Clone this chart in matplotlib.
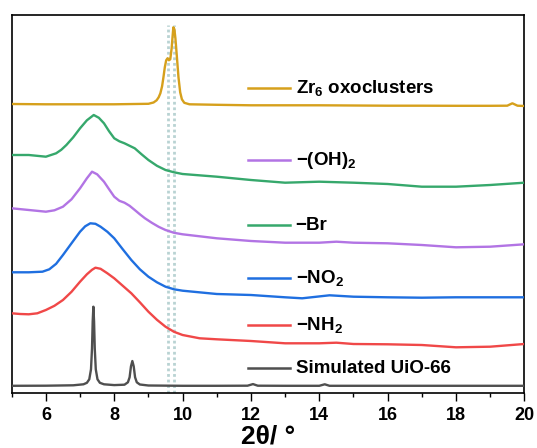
import matplotlib
matplotlib.use("Agg")
import matplotlib.pyplot as plt
from matplotlib.lines import Line2D

plt.rcParams['font.family'] = ['Liberation Sans', 'DejaVu Sans']
plt.rcParams['font.weight'] = 'bold'
plt.rcParams['mathtext.fontset'] = 'custom'
plt.rcParams['mathtext.rm'] = 'Liberation Sans:bold'
plt.rcParams['mathtext.bf'] = 'Liberation Sans:bold'
plt.rcParams['mathtext.it'] = 'Liberation Sans:bold'
plt.rcParams['mathtext.default'] = 'bf'

# ---------------- data (offset intensities, arbitrary units) ----------------
sim_x = [5.0, 6.0, 6.8, 7.1, 7.2, 7.27, 7.32, 7.35, 7.37, 7.39, 7.41, 7.43,
         7.46, 7.51, 7.58, 7.7, 8.0, 8.3, 8.4, 8.45, 8.49, 8.53, 8.57, 8.61,
         8.66, 8.75, 9.0, 10.0, 11.0, 11.9, 12.06, 12.2, 13.0, 14.0, 14.16,
         14.3, 15.0, 16.0, 17.0, 18.0, 19.0, 20.0]
sim_y = [7.5, 7.6, 8.0, 9.0, 10.5, 14.0, 24.0, 45.0, 72.0, 86.6, 72.0, 45.0,
         24.0, 14.0, 10.5, 9.0, 8.2, 8.6, 11.0, 16.0, 27.0, 32.3, 27.0, 16.0,
         11.0, 8.8, 7.8, 7.5, 7.5, 7.6, 9.2, 7.6, 7.5, 7.5, 9.0, 7.5, 7.5,
         7.5, 7.5, 7.5, 7.5, 7.5]

nh2_x = [5.0, 5.25, 5.5, 5.75, 6.0, 6.25, 6.5, 6.75, 7.0, 7.2, 7.35, 7.45,
         7.6, 7.8, 8.0, 8.25, 8.5, 8.75, 9.0, 9.25, 9.5, 9.75, 10.0, 10.5,
         11.0, 12.0, 13.0, 14.0, 14.5, 15.0, 16.0, 17.0, 18.0, 19.0, 20.0]
nh2_y = [80.0, 79.3, 79.0, 80.0, 83.3, 87.5, 93.3, 101.5, 111.6, 119.0, 123.5,
         125.6, 124.5, 120.0, 115.0, 107.5, 100.0, 91.0, 81.6, 73.5, 66.6,
         61.5, 58.3, 55.0, 54.0, 52.3, 50.0, 50.0, 50.6, 49.3, 49.0, 48.3,
         46.0, 46.6, 49.3]

no2_x = [5.0, 5.5, 5.9, 6.1, 6.3, 6.5, 6.75, 7.0, 7.15, 7.3, 7.45, 7.6, 7.8,
         8.0, 8.25, 8.5, 8.75, 9.0, 9.25, 9.5, 9.75, 10.0, 11.0, 12.0, 13.0,
         13.5, 14.3, 15.0, 16.0, 17.0, 18.0, 19.0, 20.0]
no2_y = [121.0, 121.0, 121.6, 124.0, 129.5, 138.3, 150.0, 161.6, 167.0, 170.0,
         169.5, 166.6, 161.5, 155.0, 144.0, 133.3, 124.0, 116.6, 111.0, 106.6,
         104.0, 102.6, 99.3, 98.3, 96.0, 95.0, 98.0, 96.6, 96.0, 95.6, 96.0,
         96.0, 96.0]

oh2_x = [5.0, 5.5, 6.0, 6.25, 6.5, 6.75, 7.0, 7.2, 7.35, 7.5, 7.7, 7.85, 8.0,
         8.15, 8.3, 8.45, 8.6, 8.75, 8.9, 9.1, 9.3, 9.5, 9.75, 10.0, 11.0,
         12.0, 13.0, 14.0, 14.5, 15.0, 16.0, 17.0, 18.0, 19.0, 20.0]
oh2_y = [185.0, 183.3, 181.6, 183.0, 186.6, 194.0, 205.0, 215.0, 221.6, 219.0,
         211.6, 204.0, 196.6, 192.5, 190.6, 187.5, 183.3, 179.0, 175.0, 170.5,
         166.5, 163.3, 160.5, 159.0, 155.0, 152.3, 150.6, 150.6, 151.6, 150.6,
         150.0, 148.3, 146.0, 146.6, 149.0]

br_x = [5.0, 5.5, 6.0, 6.3, 6.45, 6.6, 6.8, 7.0, 7.2, 7.4, 7.55, 7.7, 7.85,
        8.0, 8.15, 8.3, 8.45, 8.6, 8.8, 9.0, 9.25, 9.5, 9.75, 10.0, 11.0,
        12.0, 13.0, 14.0, 15.0, 16.0, 17.0, 18.0, 19.0, 20.0]
br_y = [238.3, 238.3, 236.6, 240.0, 243.5, 248.3, 256.0, 265.0, 273.0, 278.3,
        275.5, 270.0, 262.0, 255.0, 252.0, 250.0, 247.5, 245.0, 239.0, 233.3,
        227.5, 223.3, 221.0, 219.3, 216.6, 213.3, 210.6, 211.6, 210.6, 209.3,
        206.6, 206.6, 208.3, 210.6]

zr_x = [5.0, 6.0, 7.0, 8.0, 9.0, 9.15, 9.24, 9.3, 9.35, 9.4, 9.44, 9.48, 9.52,
        9.56, 9.6, 9.64, 9.68, 9.71, 9.73, 9.76, 9.79, 9.83, 9.88, 9.93, 9.98,
        10.05, 10.2, 11.0, 12.0, 13.0, 14.0, 15.0, 16.0, 17.0, 18.0, 19.0,
        19.5, 19.65, 19.8, 20.0]
zr_y = [289.3, 289.0, 289.0, 289.0, 289.5, 290.8, 293.0, 296.0, 300.0, 307.0,
        316.0, 326.0, 333.0, 335.0, 333.0, 334.0, 345.0, 358.0, 366.0, 364.0,
        355.0, 338.0, 316.0, 301.0, 294.0, 290.5, 289.0, 288.5, 288.0, 288.0,
        288.0, 287.8, 287.6, 287.6, 287.5, 287.5, 287.6, 290.0, 287.6, 287.3]

ref_lines = [9.58, 9.76]

labels = ['Zr$_6$ oxoclusters', '\u2212(OH)$_2$', '\u2212Br', '\u2212NO$_2$',
          '\u2212NH$_2$', 'Simulated UiO-66']
colors = ['#d6a01c', '#b274e4', '#36a86c', '#1f6fe0', '#f04848', '#4f4f4f']
legend_y = [0.806, 0.616, 0.4445, 0.304, 0.180, 0.066]

xticks = [6, 8, 10, 12, 14, 16, 18, 20]

# ---------------- figure ----------------
fig = plt.figure(figsize=(5.37, 4.48), dpi=100)
ax = fig.add_axes([0.0218, 0.1221, 0.9546, 0.8451])

for xv in ref_lines:
    ax.plot([xv, xv], [0, 368], color='#b9d3d3', lw=2.0, ls=(0, (1.0, 1.0)), zorder=1)

series = [(zr_x, zr_y), (oh2_x, oh2_y), (br_x, br_y), (no2_x, no2_y),
          (nh2_x, nh2_y), (sim_x, sim_y)]
for (xs, ys), c in zip(series, colors):
    ax.plot(xs, ys, color=c, lw=1.7, zorder=3, solid_joinstyle='round')

for lab, c, ly in zip(labels, colors, legend_y):
    ax.add_line(Line2D([0.46, 0.543], [ly, ly], transform=ax.transAxes,
                       color=c, lw=1.8))
    ax.text(0.554, ly, lab, transform=ax.transAxes, fontsize=13.5,
            fontweight='bold', va='center', ha='left')

ax.set_xlim(5, 20)
ax.set_ylim(0, 378.6)
ax.set_yticks([])
ax.set_xticks(xticks)
ax.set_xticks(range(5, 21), minor=True)
ax.tick_params(axis='x', which='major', direction='out', length=6, width=1.0,
               labelsize=13, pad=4)
ax.tick_params(axis='x', which='minor', direction='out', length=3, width=1.0)
for lbl in ax.get_xticklabels():
    lbl.set_fontweight('bold')
for s in ax.spines.values():
    s.set_linewidth(1.2)
ax.set_xlabel('2\u03b8/ \u00b0', fontsize=19, fontweight='bold', labelpad=0)

fig.savefig('out.png', dpi=100)
